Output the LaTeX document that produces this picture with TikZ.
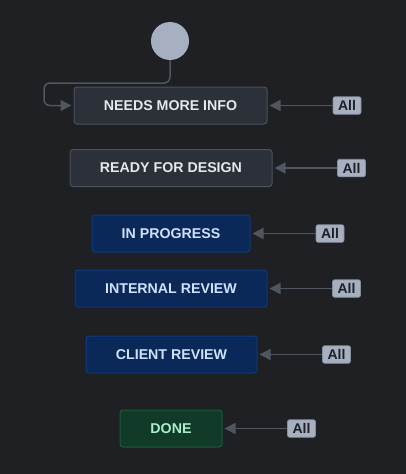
\documentclass[tikz,border=0pt]{standalone}
\usepackage{fontspec}
\setmainfont{Liberation Sans}
\usetikzlibrary{arrows.meta,positioning}
\definecolor{bg}{HTML}{1E2024}
\definecolor{dot}{HTML}{A6B0C1}
\definecolor{wire}{HTML}{4F5660}
\definecolor{grayfill}{HTML}{2C3139}
\definecolor{grayedge}{HTML}{4B525B}
\definecolor{graytext}{HTML}{E6E8EB}
\definecolor{bluefill}{HTML}{0A2958}
\definecolor{blueedge}{HTML}{12397A}
\definecolor{bluetext}{HTML}{CFE1FF}
\definecolor{greenfill}{HTML}{113A29}
\definecolor{greenedge}{HTML}{1C5A3C}
\definecolor{greentext}{HTML}{A9EFC9}
\tikzset{
  stat/.style={draw=#1edge,fill=#1fill,text=#1text,line width=1pt,rounded corners=3pt,
               minimum height=37pt,font=\fontsize{14.2}{16}\selectfont\bfseries,inner sep=0pt},
  stat/.default=gray,
  anytag/.style={fill=dot,text=bg,draw=dot!80!black,line width=0.6pt,rounded corners=2pt,
                 minimum width=28pt,minimum height=17.5pt,
                 inner sep=0pt,font=\fontsize{14}{15}\selectfont\bfseries},
  flow/.style={-{Triangle[length=11pt,width=11pt]},draw=wire,line width=1.5pt},
}
\begin{document}
\begin{tikzpicture}[x=1pt,y=-1pt]
  \fill[bg] (0,0) rectangle (406,474);
  \useasboundingbox (0,0) rectangle (406,474);
  \node[circle,fill=dot,minimum size=38pt,inner sep=0pt] (start) at (170,41) {};
  % states
  \node[stat,minimum width=193pt] (nmi) at (170.5,105.5) {NEEDS MORE INFO};
  \node[stat,minimum width=202pt] (rfd) at (171,168) {READY FOR DESIGN};
  \node[stat=blue,minimum width=158pt] (inp) at (171,233.5) {IN PROGRESS};
  \node[stat=blue,minimum width=192pt] (irv) at (171,288.5) {INTERNAL REVIEW};
  \node[stat=blue,minimum width=171pt] (crv) at (171.5,354.5) {CLIENT REVIEW};
  \node[stat=green,minimum width=102pt] (done) at (171,428.5) {DONE};
  % global transitions
  \node[anytag] (a1) at (347,105.5) {All};
  \node[anytag] (a2) at (351.5,168) {All};
  \node[anytag] (a3) at (330,233.5) {All};
  \node[anytag] (a4) at (346.5,288.5) {All};
  \node[anytag] (a5) at (336.5,354.5) {All};
  \node[anytag] (a6) at (301.5,428.5) {All};
  \foreach \t/\s in {a1/nmi,a2/rfd,a3/inp,a4/irv,a5/crv,a6/done}{ \draw[flow,shorten >=2pt] (\t) -- (\s); }
  \draw[flow,rounded corners=6pt,shorten >=2pt] (start.south) |- (44,83) |- (nmi.west);
\end{tikzpicture}
\end{document}
